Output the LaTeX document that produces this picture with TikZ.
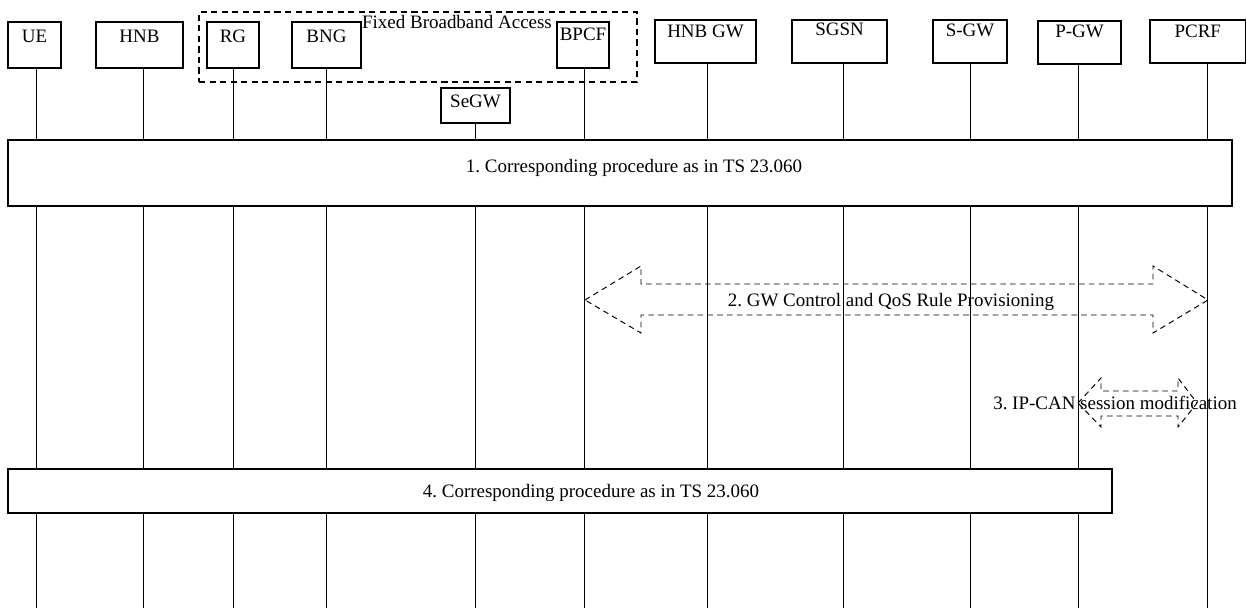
\documentclass[tikz,border=0pt]{standalone}
\usepackage{fontspec}
\setmainfont{Liberation Serif}
\usetikzlibrary{fit, calc}
\frenchspacing
\tikzset{
  font=\fontsize{10.8}{13}\selectfont,
  ent/.style={draw, fill=white, line width=0.7pt, inner sep=0pt},
  entlab/.style={anchor=north, inner sep=0pt},
  life/.style={line width=0.5pt},
  proc/.style={draw, fill=white, line width=0.7pt, inner sep=0pt},
  txt/.style={anchor=base, inner sep=0pt},
  fatarr/.style={draw, line width=0.55pt, dash pattern=on 3.2pt off 2.4pt},
  grp/.style={draw, line width=0.65pt, dash pattern=on 3.5pt off 2.5pt, inner sep=0pt}
}

\begin{document}
\begin{tikzpicture}[x=0.02cm, y=-0.02cm]
  \useasboundingbox (0,0) rectangle (1247,608);
  % fixed broadband access group
  \node[grp, fit={(199,12) (637,82)}] (fba) {};
  \node[txt] (fbat) at (457,29) {Fixed Broadband Access};
  % entities
  \node[ent, fit={(8,22) (61,68)}, label={[entlab, yshift=-0.16cm]north:UE}] (ue) {};
  \node[ent, fit={(96,22) (183,68)}, label={[entlab, yshift=-0.16cm]north:HNB}] (hnb) {};
  \node[ent, fit={(207,22) (259,68)}, label={[entlab, yshift=-0.16cm]north:RG}] (rg) {};
  \node[ent, fit={(292,22) (361,68)}, label={[entlab, yshift=-0.16cm]north:BNG}] (bng) {};
  \node[ent, fit={(557,22) (609,68)}, label={[entlab, yshift=-0.12cm]north:BPCF}] (bpcf) {};
  \node[ent, fit={(441,88) (510,123)}, label={[entlab, yshift=-0.14cm]north:SeGW}] (segw) {};
  \node[ent, fit={(655,20) (756,63)}, label={[entlab, yshift=-0.10cm]north:HNB GW}] (hnbgw) {};
  \node[ent, fit={(792,20) (887,63)}, label={[entlab, yshift=-0.07cm]north:SGSN}] (sgsn) {};
  \node[ent, fit={(933,20) (1007,63)}, label={[entlab, yshift=-0.08cm]north:S-GW}] (sgw) {};
  \node[ent, fit={(1038,21) (1121,64)}, label={[entlab, yshift=-0.08cm]north:P-GW}] (pgw) {};
  \node[ent, fit={(1150,20) (1245.5,63)}, label={[entlab, yshift=-0.10cm]north:PCRF}] (pcrf) {};
  % lifelines
  \foreach \n/\x in {ue/36, hnb/143, rg/233, bng/326, segw/475, bpcf/584,
                     hnbgw/707, sgsn/843, sgw/970, pgw/1078, pcrf/1207}
    \draw[life] (\n.south -| \x,0) -- (\x,608);
  % step 1
  \node[proc, fit={(8,140) (1232,206)}] (p1) {};
  \node[txt] (p1t) at (634,173) {1. Corresponding procedure as in TS 23.060};
  % step 2
  \coordinate (a2s) at (585,300);
  \coordinate (a2e) at (1208,300);
  \draw[fatarr] (a2s) -- ++(56,-34) -- ++(0,18) -- ($(a2e)+(-55,-16)$) -- ++(0,-18)
    -- (a2e) -- ++(-55,33) -- ++(0,-18) -- ($(a2s)+(56,15)$) -- ++(0,18) -- cycle;
  \node[txt] (a2t) at (891,306) {2. GW Control and QoS Rule Provisioning};
  % step 3
  \coordinate (a3s) at (1078,403);
  \coordinate (a3e) at (1197,403);
  \draw[fatarr] (a3s) -- ++(23,-25) -- ++(0,13) -- ($(a3e)+(-19,-12)$) -- ++(0,-13)
    -- (a3e) -- ++(-19,24) -- ++(0,-11) -- ($(a3s)+(23,13)$) -- ++(0,11) -- cycle;
  \node[txt] (a3t) at (1115,409) {3. IP-CAN session modification};
  % step 4
  \node[proc, fit={(8,469) (1112,513)}] (p4) {};
  \node[txt] (p4t) at (591,497) {4. Corresponding procedure as in TS 23.060};
\end{tikzpicture}
\end{document}
